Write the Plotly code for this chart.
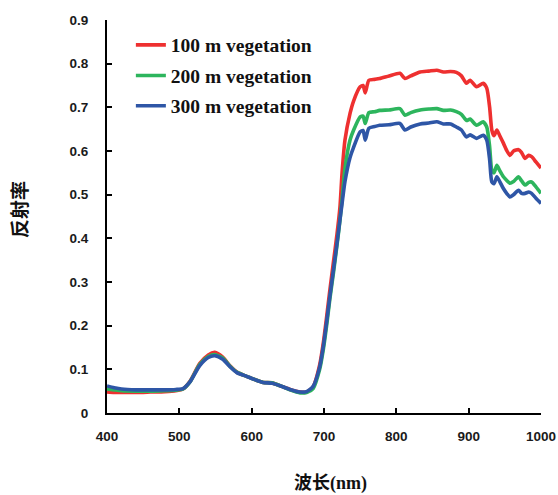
import plotly.graph_objects as go

wavelength = [400, 410, 420, 440, 460, 480, 495, 505, 515, 528, 540, 549, 560, 570, 580, 593, 602, 616, 628, 640,
              653, 667, 676, 685, 694, 699, 704, 708, 713, 718, 722, 725, 729, 736, 741, 750, 754, 757, 762, 770,
              777, 790, 805, 812, 820, 833, 845, 856, 865, 875, 883, 890, 897, 902, 911, 920, 925, 929, 932, 935,
              939, 943, 948, 953, 957, 962, 969, 973, 978, 983, 987, 993, 1000]

veg_100m = [.048, .047, .047, .047, .048, .049, .051, .055, .073, .113, .133, .139, .128, .108, .093, .084, .078, .070, .069, .062,
            .054, .048, .048, .060, .110, .160, .225, .280, .345, .410, .470, .550, .625, .686, .715, .747, .750, .733, .762, .764,
            .766, .772, .778, .766, .772, .781, .783, .785, .781, .782, .780, .772, .755, .762, .747, .755, .744, .700, .648, .635,
            .648, .635, .618, .600, .590, .600, .603, .597, .583, .590, .587, .575, .561]

veg_200m = [.055, .053, .051, .050, .050, .051, .052, .055, .072, .111, .129, .134, .126, .107, .093, .084, .078, .070, .069, .062,
            .053, .046, .047, .056, .100, .145, .205, .260, .320, .385, .440, .490, .560, .625, .648, .678, .680, .663, .688, .690,
            .693, .694, .697, .682, .688, .694, .696, .697, .693, .694, .690, .684, .670, .673, .659, .667, .655, .610, .556, .550,
            .567, .555, .541, .532, .526, .530, .541, .532, .522, .528, .529, .518, .503]

veg_300m = [.062, .058, .055, .053, .053, .053, .054, .056, .072, .108, .127, .131, .123, .106, .092, .084, .078, .070, .068, .062,
            .054, .048, .049, .061, .105, .152, .213, .266, .327, .389, .442, .480, .530, .585, .609, .644, .647, .625, .652, .656,
            .659, .660, .663, .648, .655, .662, .664, .667, .662, .662, .655, .648, .632, .637, .629, .636, .625, .580, .529, .525,
            .541, .530, .514, .502, .495, .500, .510, .503, .503, .506, .503, .492, .480]

series_names = ["100 m vegetation", "200 m vegetation", "300 m vegetation"]
series_values = [veg_100m, veg_200m, veg_300m]
colors = ["#EE3030", "#2DB55D", "#2E56A6"]
legend_ids = ["legend", "legend2", "legend3"]

x_ticks = [400, 500, 600, 700, 800, 900, 1000]
y_ticks = [0, 0.1, 0.2, 0.3, 0.4, 0.5, 0.6, 0.7, 0.8, 0.9]
y_tick_text = ["0", "0.1", "0.2", "0.3", "0.4", "0.5", "0.6", "0.7", "0.8", "0.9"]

fig = go.Figure()
for name, vals, col, lg in zip(series_names, series_values, colors, legend_ids):
    fig.add_trace(go.Scatter(x=wavelength, y=vals, mode="lines", name=name,
                             line=dict(color=col, width=3.6, shape="spline", smoothing=0.6),
                             legend=lg))

tick_font = dict(family="Liberation Sans, Arial", size=13.5, color="#1a1a1a", weight="bold")
leg_font = dict(family="Liberation Serif, Times New Roman", size=19.5, color="#111111", weight="bold")

leg_common = dict(xanchor="left", yanchor="middle", bgcolor="rgba(0,0,0,0)", borderwidth=0,
                  font=leg_font, itemwidth=30)
fig.update_layout(
    width=558, height=495,
    margin=dict(l=107, r=17, t=20, b=82, autoexpand=False),
    paper_bgcolor="white", plot_bgcolor="white",
    showlegend=True,
    legend=dict(x=0.055, y=0.936, **leg_common),
    legend2=dict(x=0.055, y=0.858, **leg_common),
    legend3=dict(x=0.055, y=0.781, **leg_common),
    xaxis=dict(range=[400, 1000], tickvals=x_ticks, ticks="inside", ticklen=5, tickwidth=1.5,
               tickcolor="black", showline=True, linecolor="black", linewidth=2, showgrid=False,
               zeroline=False, tickfont=tick_font, ticklabelstandoff=10, automargin=False),
    yaxis=dict(range=[0, 0.9], tickvals=y_ticks, ticktext=y_tick_text, ticks="inside", ticklen=5,
               tickwidth=1.5, tickcolor="black", showline=True, linecolor="black", linewidth=2,
               showgrid=False, zeroline=False, tickfont=tick_font, ticklabelstandoff=14, automargin=False),
    annotations=[
        dict(text="波长(nm)", x=0.514, y=-0.18, xref="paper", yref="paper",
             xanchor="center", yanchor="middle", showarrow=False,
             font=dict(family="Liberation Serif, Noto Sans CJK SC", size=18, color="#111111", weight="bold")),
        dict(text="反射率", x=-0.198, y=0.517, xref="paper", yref="paper", textangle=-90,
             xanchor="center", yanchor="middle", showarrow=False,
             font=dict(family="Liberation Serif, Noto Sans CJK SC", size=19, color="#111111", weight="bold")),
    ],
)

fig.write_html("out.html")
